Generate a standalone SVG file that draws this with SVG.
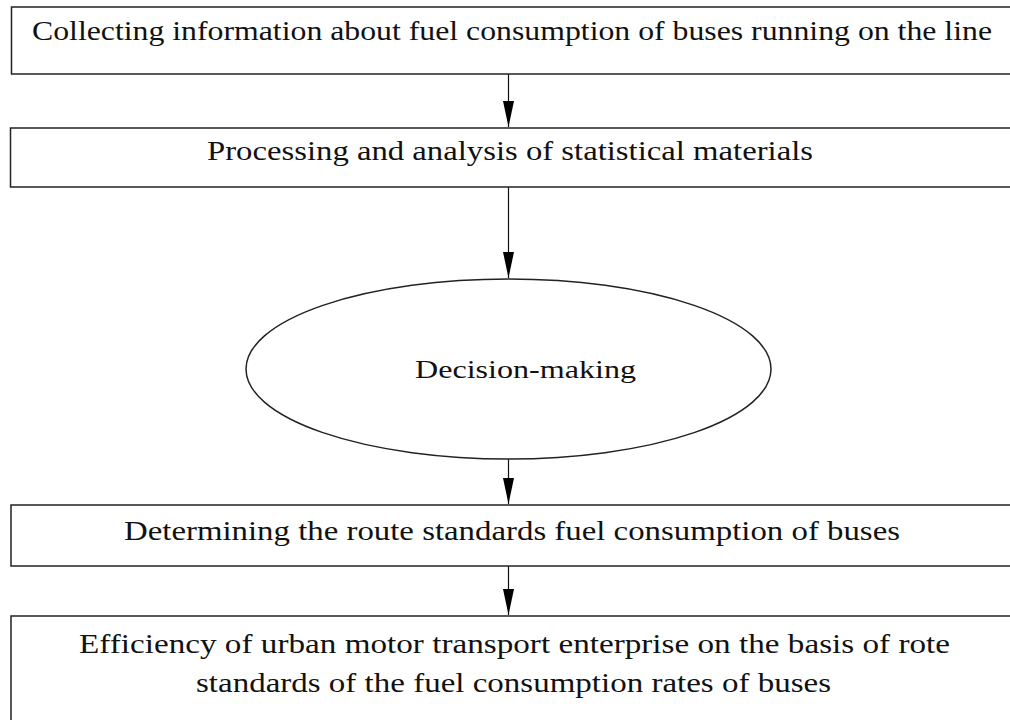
<svg xmlns="http://www.w3.org/2000/svg" width="1010" height="720" viewBox="0 0 1010 720">
<style>
.box{fill:#fff;stroke:#222;stroke-width:1.5}
.t{font-family:'Times New Roman','Liberation Serif',Times,serif;font-size:27px;fill:#111}
.d{font-family:'Times New Roman','Liberation Serif',Times,serif;font-size:26px;fill:#111}
.c{stroke:#111;stroke-width:1.2;fill:none}
</style>
<defs>
<marker id="ah2" viewBox="0 0 26 11" refX="26" refY="5.5" markerWidth="26" markerHeight="11" markerUnits="userSpaceOnUse" orient="auto">
<path d="M0,0 L26,5.5 L0,11 Z" fill="#000"/>
</marker>
</defs>
<rect width="1010" height="720" fill="#fff"/>
<g id="connectors">
<line class="c" x1="508.5" y1="74" x2="508.5" y2="127" marker-end="url(#ah2)"/>
<line class="c" x1="508.5" y1="187" x2="508.5" y2="278" marker-end="url(#ah2)"/>
<line class="c" x1="508.5" y1="459" x2="508.5" y2="504" marker-end="url(#ah2)"/>
<line class="c" x1="508.5" y1="566" x2="508.5" y2="615" marker-end="url(#ah2)"/>
</g>
<g id="n1">
<rect class="box" x="11.5" y="7" width="1010" height="67"/>
<text class="t" x="32" y="40" textLength="960" lengthAdjust="spacingAndGlyphs">Collecting information about fuel consumption of buses running on the line</text>
</g>
<g id="n2">
<rect class="box" x="10.5" y="128" width="1010" height="59"/>
<text class="t" x="207" y="160" textLength="606" lengthAdjust="spacingAndGlyphs">Processing and analysis of statistical materials</text>
</g>
<g id="n3">
<ellipse class="box" cx="508.5" cy="369" rx="262.5" ry="90"/>
<text class="d" x="415" y="378" textLength="221" lengthAdjust="spacingAndGlyphs">Decision-making</text>
</g>
<g id="n4">
<rect class="box" x="11" y="505" width="1010" height="61"/>
<text class="t" x="124" y="540" textLength="776" lengthAdjust="spacingAndGlyphs">Determining the route standards fuel consumption of buses</text>
</g>
<g id="n5">
<rect class="box" x="11" y="616" width="1010" height="120"/>
<text class="t" x="79" y="653" textLength="871" lengthAdjust="spacingAndGlyphs">Efficiency of urban motor transport enterprise on the basis of rote</text>
<text class="t" x="196" y="692" textLength="635" lengthAdjust="spacingAndGlyphs">standards of the fuel consumption rates of buses</text>
</g>
</svg>
